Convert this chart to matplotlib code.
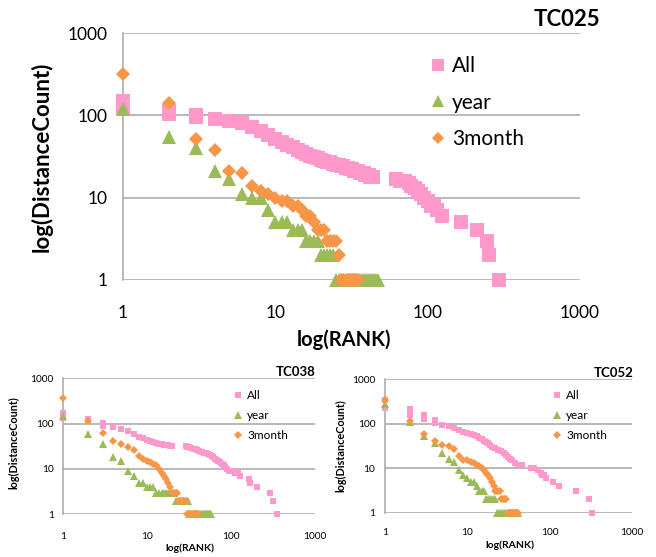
import matplotlib
matplotlib.use("Agg")
import matplotlib.pyplot as plt
from matplotlib.lines import Line2D

plt.rcParams['font.family'] = ['Lato', 'DejaVu Sans']

# couleurs des séries (style Excel)
PINK = '#FF99CC'
GREEN = '#9BBB59'
ORANGE = '#F79646'
GRID = '#A6A6A6'

# ---- TC025 (grand graphique) ----
tc025_all_rank = [1, 1, 2, 2, 3, 3, 4, 5, 6, 7, 8, 9, 10, 11, 12, 13, 14, 15, 16, 17, 18, 19, 20,
                  21, 22, 23, 24, 25, 26, 27, 28, 29, 30, 31, 32, 33, 34, 35, 36, 37, 38, 39, 40,
                  41, 42, 43, 44, 62, 66, 71, 75, 78, 82, 86, 90, 95, 100, 105, 110, 115, 124,
                  166, 211, 247, 252, 293]
tc025_all_count = [150, 120, 112, 105, 100, 96, 90, 86, 80, 72, 65, 58, 52, 48, 44, 41, 38, 36, 34,
                   32, 31, 30, 29, 28, 27, 27, 26, 25, 25, 24, 24, 23, 23, 22, 22, 21, 21, 21, 20,
                   20, 20, 19, 19, 19, 18, 18, 18, 17, 16, 16, 15, 14, 13, 12, 11, 10, 9, 8, 8, 7,
                   6, 5, 4, 3, 2, 1]
tc025_year_rank = [1, 2, 3, 4, 5, 6, 7, 8, 9, 10, 11, 12, 13, 14, 15, 16, 17, 18, 19, 20, 21, 22,
                   23, 24, 25, 26, 27, 28, 29, 30, 31, 32, 33, 34, 35, 36, 37, 38, 39, 40, 41, 42,
                   43, 44, 45, 46, 47]
tc025_year_count = [120, 55, 40, 21, 17, 11, 10, 10, 7, 5, 5, 5, 4, 4, 4, 3, 3, 3, 3, 2, 2, 2, 2,
                    2, 1, 1, 1, 1, 1, 1, 1, 1, 1, 1, 1, 1, 1, 1, 1, 1, 1, 1, 1, 1, 1, 1, 1]
tc025_3m_rank = [1, 2, 3, 4, 5, 6, 7, 8, 9, 10, 11, 12, 13, 14, 15, 16, 17, 18, 19, 20, 21, 22, 23,
                 24, 25, 26, 27, 28, 29, 30, 31, 32, 33, 34, 35]
tc025_3m_count = [320, 140, 52, 38, 21, 20, 14, 12, 11, 10, 9, 9, 8, 8, 7, 6, 6, 5, 4, 4, 4, 3, 3,
                  3, 3, 2, 1, 1, 1, 1, 1, 1, 1, 1, 1]

# ---- TC038 ----
tc038_all_rank = [1, 1, 2, 2, 3, 3, 4, 5, 6, 7, 8, 9, 10, 11, 12, 13, 14, 15, 16, 17, 18, 19, 20,
                  29, 30, 32, 34, 36, 38, 40, 42, 45, 48, 50, 53, 56, 59, 62, 65, 68, 71, 74, 78,
                  82, 86, 90, 95, 100, 106, 112, 120, 130, 165, 170, 205, 290, 315, 350]
tc038_all_count = [170, 130, 125, 120, 105, 90, 85, 75, 70, 60, 52, 47, 44, 42, 40, 38, 36, 35, 34,
                   33, 33, 32, 32, 32, 31, 30, 29, 28, 27, 26, 25, 24, 23, 22, 21, 20, 19, 18, 17,
                   16, 15, 14, 13, 12, 11, 10, 9, 9, 9, 8, 8, 7, 6, 5, 4, 3, 2, 1]
tc038_year_rank = [1, 2, 3, 4, 5, 6, 7, 8, 9, 10, 11, 12, 13, 14, 15, 16, 17, 18, 19, 20, 21, 22,
                   23, 24, 25, 26, 27, 28, 29, 30, 31, 32, 33, 34, 35, 36, 37, 38, 39, 40, 41, 42,
                   43, 44, 45, 46, 47, 48, 49, 50, 51, 52, 53, 54, 55, 56, 57, 58]
tc038_year_count = [150, 58, 36, 18, 15, 9, 7, 5, 5, 4, 4, 4, 3, 3, 3, 3, 3, 3, 3, 3, 3, 2, 2, 2,
                    2, 2, 2, 2, 2, 2, 2, 1, 1, 1, 1, 1, 1, 1, 1, 1, 1, 1, 1, 1, 1, 1, 1, 1, 1, 1,
                    1, 1, 1, 1, 1, 1, 1, 1]
tc038_3m_rank = [1, 2, 3, 4, 5, 6, 7, 8, 9, 10, 11, 12, 13, 14, 15, 16, 17, 18, 19, 20, 21, 22, 23,
                 24, 25, 26, 27, 28, 29, 30, 31, 32, 33, 34, 35, 36, 37, 38, 39, 40, 41]
tc038_3m_count = [360, 115, 63, 42, 35, 31, 26, 19, 17, 15, 14, 13, 12, 10, 8, 7, 6, 5, 4, 3, 3,
                  3, 3, 2, 2, 2, 2, 2, 2, 1, 1, 1, 1, 1, 1, 1, 1, 1, 1, 1, 1]

# ---- TC052 ----
tc052_all_rank = [1, 1, 2, 2, 2, 3, 3, 4, 4, 5, 6, 7, 8, 9, 10, 11, 12, 13, 14, 15, 16, 17, 18, 19,
                  20, 22, 24, 26, 28, 30, 31, 33, 35, 38, 42, 46, 60, 65, 72, 78, 82, 86, 90, 110,
                  130, 210, 300, 325]
tc052_all_count = [340, 230, 220, 190, 160, 155, 125, 120, 105, 95, 88, 80, 72, 66, 62, 58, 55, 52,
                   49, 46, 42, 38, 36, 33, 30, 28, 26, 24, 22, 20, 18, 16, 15, 13, 12, 12, 10, 10,
                   9, 8, 7, 7, 6, 5, 4, 3, 2, 1]
tc052_year_rank = [1, 2, 3, 4, 5, 6, 7, 8, 9, 10, 11, 12, 13, 14, 15, 16, 17, 18, 19, 20, 21, 22,
                   23, 24, 25, 26, 27, 28, 29, 30, 31, 32, 33, 34, 35, 36, 37, 38, 39, 40, 41]
tc052_year_count = [280, 110, 52, 36, 22, 16, 14, 9, 7, 6, 5, 5, 4, 3, 3, 3, 2, 2, 2, 2, 2, 2, 1,
                    1, 1, 1, 1, 1, 1, 1, 1, 1, 1, 1, 1, 1, 1, 1, 1, 1, 1]
tc052_3m_rank = [1, 2, 3, 4, 5, 6, 7, 8, 9, 10, 11, 12, 13, 14, 15, 16, 17, 18, 19, 20, 21, 22, 23,
                 24, 25, 26, 27, 28, 29, 30, 31, 32, 33, 34, 35, 36, 37, 38, 39, 40, 41]
tc052_3m_count = [350, 115, 59, 42, 34, 32, 27, 19, 15, 15, 14, 13, 12, 11, 10, 9, 8, 7, 6, 5, 4,
                  3, 3, 3, 3, 2, 2, 2, 2, 2, 1, 1, 1, 1, 1, 1, 1, 1, 1, 1, 1]

series_labels = ['All', 'year', '3month']
x_ticks = [1, 10, 100, 1000]
y_ticks = [1, 10, 100, 1000]

W, H = 656, 557
fig = plt.figure(figsize=(W / 100, H / 100), dpi=100)


def px_axes(left, top, right, bottom):
    # coordonnées en pixels -> fraction de figure
    return fig.add_axes([left / W, 1 - bottom / H, (right - left) / W, (bottom - top) / H])


def draw_panel(ax, data, ms, tick_fs, tick_pad_x, tick_pad_y):
    (ar, ac), (yr, yc), (mr, mc) = data
    ax.plot(ar, ac, linestyle='none', marker='s', ms=ms[0], color=PINK, mew=0, clip_on=False)
    ax.plot(yr, yc, linestyle='none', marker='^', ms=ms[1], color=GREEN, mew=0, clip_on=False)
    ax.plot(mr, mc, linestyle='none', marker='D', ms=ms[2], color=ORANGE, mew=0, clip_on=False)
    ax.set_xscale('log')
    ax.set_yscale('log')
    ax.set_xlim(1, 1000)
    ax.set_ylim(1, 1000)
    ax.set_xticks(x_ticks)
    ax.set_xticklabels([str(t) for t in x_ticks])
    ax.set_yticks(y_ticks)
    ax.set_yticklabels([str(t) for t in y_ticks])
    ax.minorticks_off()
    ax.tick_params(axis='x', length=0, labelsize=tick_fs, pad=tick_pad_x, colors='black')
    ax.tick_params(axis='y', length=0, labelsize=tick_fs, pad=tick_pad_y, colors='black')
    for t in y_ticks:
        ax.axhline(t, color=GRID, lw=1.1, zorder=0)
    for s in ['top', 'right', 'bottom']:
        ax.spines[s].set_visible(False)
    ax.spines['left'].set_color(GRID)
    ax.spines['left'].set_linewidth(1.1)
    ax.spines['left'].set_zorder(0)
    ax.patch.set_alpha(0)


def legend_handles(ms):
    return [Line2D([], [], linestyle='none', marker='s', ms=ms[0], color=PINK, mew=0),
            Line2D([], [], linestyle='none', marker='^', ms=ms[1], color=GREEN, mew=0),
            Line2D([], [], linestyle='none', marker='D', ms=ms[2], color=ORANGE, mew=0)]


# grand graphique TC025
ax1 = px_axes(123, 33, 580, 280)
draw_panel(ax1, [(tc025_all_rank, tc025_all_count), (tc025_year_rank, tc025_year_count),
                 (tc025_3m_rank, tc025_3m_count)], (9.5, 10, 7.5), 12.5, 18, 11)
ax1.legend(legend_handles((8, 9, 6)), series_labels, loc='upper left', frameon=False,
           bbox_to_anchor=(430 / W, 1 - 56 / H), bbox_transform=fig.transFigure,
           fontsize=15, handlelength=0.8, handletextpad=0.25, labelspacing=0.8, borderpad=0,
           borderaxespad=0)
fig.text(600 / W, 1 - 20 / H, 'TC025', ha='right', va='center', fontsize=16, fontweight='bold')
fig.text(42 / W, 1 - 157 / H, 'log(DistanceCount)', rotation=90, ha='center', va='center',
         fontsize=16, fontweight='bold')
fig.text(344 / W, 1 - 340 / H, 'log(RANK)', ha='center', va='center', fontsize=14.5,
         fontweight='bold')

# petit graphique TC038
ax2 = px_axes(62.7, 378.3, 315, 514.3)
draw_panel(ax2, [(tc038_all_rank, tc038_all_count), (tc038_year_rank, tc038_year_count),
                 (tc038_3m_rank, tc038_3m_count)], (5, 5.5, 3.8), 7.3, 13, 6.5)
ax2.legend(legend_handles((5, 5.5, 3.8)), series_labels, loc='upper left', frameon=False,
           bbox_to_anchor=(233 / W, 1 - 390 / H), bbox_transform=fig.transFigure,
           fontsize=8.5, handlelength=0.8, handletextpad=0.4, labelspacing=0.78, borderpad=0,
           borderaxespad=0)
fig.text(315 / W, 1 - 372 / H, 'TC038', ha='right', va='center', fontsize=9.5, fontweight='bold')
fig.text(14 / W, 1 - 443 / H, 'log(DistanceCount)', rotation=90, ha='center', va='center',
         fontsize=7.8, fontweight='bold')
fig.text(190 / W, 1 - 548 / H, 'log(RANK)', ha='center', va='center', fontsize=7.5,
         fontweight='bold')

# petit graphique TC052
ax3 = px_axes(385, 379.3, 631.7, 512.7)
draw_panel(ax3, [(tc052_all_rank, tc052_all_count), (tc052_year_rank, tc052_year_count),
                 (tc052_3m_rank, tc052_3m_count)], (5, 5.5, 3.8), 7.3, 11, 7)
ax3.legend(legend_handles((5, 5.5, 3.8)), series_labels, loc='upper left', frameon=False,
           bbox_to_anchor=(552 / W, 1 - 390 / H), bbox_transform=fig.transFigure,
           fontsize=8.5, handlelength=0.8, handletextpad=0.4, labelspacing=0.78, borderpad=0,
           borderaxespad=0)
fig.text(633 / W, 1 - 373 / H, 'TC052', ha='right', va='center', fontsize=9.5, fontweight='bold')
fig.text(341 / W, 1 - 446 / H, 'log(DistanceCount)', rotation=90, ha='center', va='center',
         fontsize=7.8, fontweight='bold')
fig.text(510 / W, 1 - 545 / H, 'log(RANK)', ha='center', va='center', fontsize=7.5,
         fontweight='bold')

fig.savefig('out.png', dpi=100)
plt.close('all')
